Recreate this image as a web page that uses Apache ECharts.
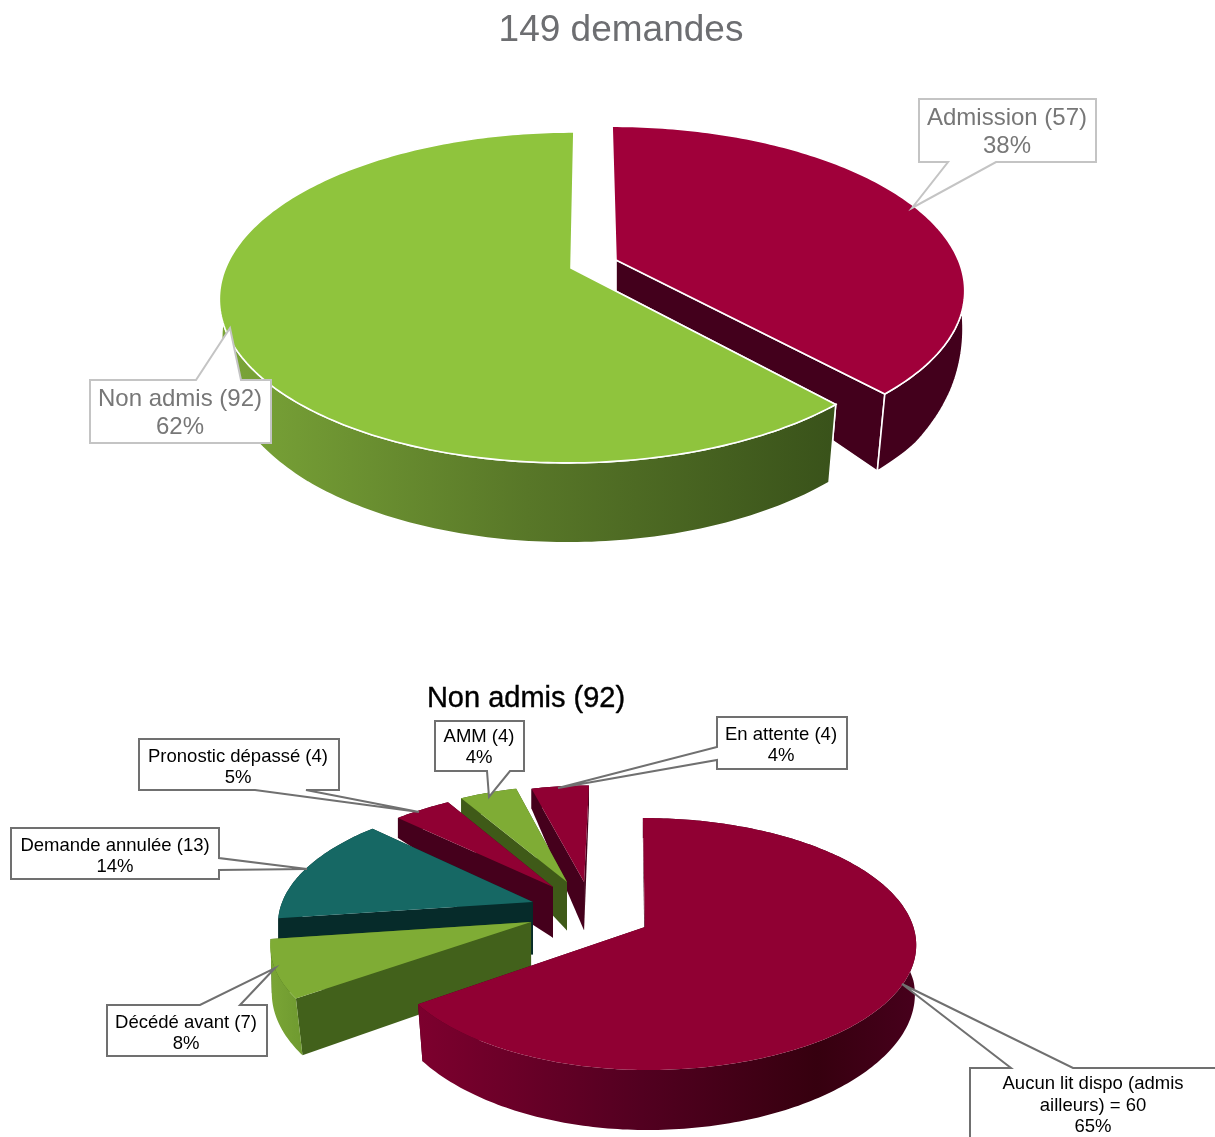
<!DOCTYPE html>
<html>
<head>
<meta charset="utf-8">
<title>Demandes</title>
<script src="https://cdn.jsdelivr.net/npm/echarts@6/dist/echarts.min.js"></script>
<style>
  html, body { margin: 0; padding: 0; background: #fff; }
  #chart { width: 1215px; height: 1137px; }
</style>
</head>
<body>
<div id="chart"></div>
<script>
// data
var topNames = ['Admission (57)', 'Non admis (92)'];
var topValues = [57, 92];
var topPercents = ['38%', '62%'];

var lowNames = ['Aucun lit dispo (admis\nailleurs) = 60', 'Décédé avant (7)', 'Demande annulée (13)', 'Pronostic dépassé (4)', 'AMM (4)', 'En attente (4)'];
var lowValues = [60, 7, 13, 4, 4, 4];
var lowPercents = ['65%', '8%', '14%', '5%', '4%', '4%'];

// perspective of each pie: vanishing x, apex y, radii, tilt, wall height by depth
var topPie = {
    vx: 590, vy: 268, rx: 345.4, ry: 160.2, k: 0.178, leftScale: 1,
    depthV: [-0.05, 0.33, 0.565, 0.74, 1], depthD: [33, 61, 75, 78, 80],
    edge: '#fff', edgeWidth: 1.6,
    offsets: [[0.076, -0.05], [-0.055, 0]],
    radius: [1, 1],
    order: [0, 1],
    face: ['#a0003a', '#8fc43d'],
    side: ['#43001c', '#39521a'],
    arc: [
        [[0, '#43001c'], [1, '#43001c']],
        [[0, '#7ba638'], [0.5, '#587728'], [1, '#39521a']]
    ]
};
var lowPie = {
    vx: 628, vy: 927, rx: 268.5, ry: 123.7, k: 0.135, leftScale: 0.96,
    depthV: [-1, -0.31, 0.6, 1], depthD: [20, 52, 57, 60],
    edge: null, edgeWidth: 0,
    offsets: [[0.063, 0], [-0.363, -0.04], [-0.364, -0.208], [-0.292, -0.338], [-0.239, -0.383], [-0.172, -0.383]],
    radius: [1, 1, 1, 0.97, 0.97, 0.97],
    order: [5, 4, 3, 2, 1, 0],
    face: ['#900033', '#7fac35', '#166864', '#900033', '#7fac35', '#900033'],
    side: ['#45001c', '#42611b', '#062b2a', '#45001c', '#3f5a18', '#45001c'],
    arc: [
        [[0, '#7d002e'], [0.45, '#520020'], [0.8, '#36000f'], [1, '#47001c']],
        [[0, '#7aa535'], [1, '#6f9a30']],
        [[0, '#062b2a'], [1, '#062b2a']],
        [[0, '#45001c'], [1, '#45001c']],
        [[0, '#3f5a18'], [1, '#3f5a18']],
        [[0, '#45001c'], [1, '#45001c']]
    ]
};

function wallHeight(pie, v) {
    var vs = pie.depthV, ds = pie.depthD;
    if (v <= vs[0]) return ds[0];
    for (var i = 1; i < vs.length; i++) {
        if (v <= vs[i]) return ds[i - 1] + (ds[i] - ds[i - 1]) * (v - vs[i - 1]) / (vs[i] - vs[i - 1]);
    }
    return ds[ds.length - 1];
}

function topPoint(pie, u, v) {
    var w = 1 - pie.k * v;
    return [pie.vx + pie.rx * u / w, pie.vy + pie.ry * v / w];
}

function lowPoint(pie, u, v) {
    var p = topPoint(pie, u, v);
    return [pie.vx + (p[0] - pie.vx) * (1 - 0.037 * Math.max(v, 0)), p[1] + wallHeight(pie, v)];
}

function rimUV(pie, i, deg) {
    var a = deg * Math.PI / 180;
    var off = pie.offsets[i];
    var su = Math.sin(a) * pie.radius[i];
    if (su < 0) su *= pie.leftScale;
    return [off[0] + su, off[1] - Math.cos(a) * pie.radius[i]];
}

function makeRenderItem(pie, values) {
    var sum = values.reduce(function (a, b) { return a + b; }, 0);
    return function (params, api) {
        var i = params.dataIndex;
        var start = 0;
        for (var j = 0; j < i; j++) start += values[j] / sum * 360;
        var end = start + api.value(0) / sum * 360;
        var off = pie.offsets[i];
        var base = pie.order.indexOf(i) * 10;

        var rimTop = [], rimLow = [];
        var steps = Math.ceil(end - start);
        for (var s = 0; s <= steps; s++) {
            var uv = rimUV(pie, i, start + (end - start) * s / steps);
            rimTop.push(topPoint(pie, uv[0], uv[1]));
            rimLow.push(lowPoint(pie, uv[0], uv[1]));
        }
        var apexTop = topPoint(pie, off[0], off[1]);
        var apexLow = lowPoint(pie, off[0], off[1]);

        var wallStyle = function (fill) {
            return { fill: fill, stroke: pie.edge, lineWidth: pie.edgeWidth };
        };
        var startFace = [apexTop, rimTop[0], rimLow[0], apexLow];
        var endFace = [apexTop, rimTop[steps], rimLow[steps], apexLow];
        // the face turned away from the viewer goes first
        var startShown = Math.sin(start * Math.PI / 180) < -0.001;
        var faces = startShown ? [endFace, startFace] : [startFace, endFace];

        var children = [];
        faces.forEach(function (pts, n) {
            children.push({ type: 'polygon', z2: base + n, shape: { points: pts }, style: wallStyle(pie.side[i]) });
        });
        var stops = pie.arc[i].map(function (c) { return { offset: c[0], color: c[1] }; });
        children.push({
            type: 'polygon', z2: base + 2,
            shape: { points: rimTop.concat(rimLow.slice().reverse()) },
            style: wallStyle(new echarts.graphic.LinearGradient(0, 0, 1, 0, stops))
        });
        children.push({
            type: 'polygon', z2: base + 3,
            shape: { points: [apexTop].concat(rimTop) },
            style: { fill: pie.face[i], stroke: pie.edge, lineWidth: pie.edgeWidth }
        });
        return { type: 'group', children: children };
    };
}

// callouts: box with pointer, then text
function callout(outline, text, color, border, size, lineH, cx, cy) {
    return [{
        type: 'polygon', z: 100,
        shape: { points: outline },
        style: { fill: '#fff', stroke: border, lineWidth: 2 }
    }, {
        type: 'text', z: 101, x: cx, y: cy,
        style: { text: text, fill: color, font: size + 'px "Liberation Sans", Arial, sans-serif', lineHeight: lineH, align: 'center', verticalAlign: 'middle' }
    }];
}

var grayT = '#777777', grayB = '#c4c4c4', darkB = '#707070';
var graphicEls = [].concat(
    callout([[919, 99], [1096, 99], [1096, 162], [996, 162], [912, 208], [948, 162], [919, 162]],
        topNames[0] + '\n' + topPercents[0], grayT, grayB, 24, 28, 1007, 132),
    callout([[90, 380], [196, 380], [230, 328], [241, 380], [271, 380], [271, 443], [90, 443]],
        topNames[1] + '\n' + topPercents[1], grayT, grayB, 24, 28, 180, 413),
    callout([[970, 1068], [1011, 1068], [902, 984], [1073, 1068], [1218, 1068], [1218, 1142], [970, 1142]],
        lowNames[0] + '\n' + lowPercents[0], '#000', darkB, 18.5, 21.5, 1093, 1105.5),
    callout([[107, 1005], [200, 1005], [275, 968], [240, 1005], [267, 1005], [267, 1056], [107, 1056]],
        lowNames[1] + '\n' + lowPercents[1], '#000', darkB, 18.5, 21, 186, 1033),
    callout([[11, 828], [219, 828], [219, 858], [307, 869], [219, 870], [219, 879], [11, 879]],
        lowNames[2] + '\n' + lowPercents[2], '#000', darkB, 18.5, 21, 115, 856),
    callout([[139, 739], [339, 739], [339, 790], [306, 790], [419, 812], [255, 790], [139, 790]],
        lowNames[3] + '\n' + lowPercents[3], '#000', darkB, 18.5, 21, 238, 767),
    callout([[435, 721], [524, 721], [524, 771], [510, 771], [489, 797], [487, 771], [435, 771]],
        lowNames[4] + '\n' + lowPercents[4], '#000', darkB, 18.5, 21, 479, 747.5),
    callout([[717, 717], [847, 717], [847, 769], [717, 769], [717, 760], [558, 788], [717, 747]],
        lowNames[5] + '\n' + lowPercents[5], '#000', darkB, 18.5, 21, 781, 745)
);

var chart = echarts.init(document.getElementById('chart'));
var option = {
    animation: false,
    title: [{
        text: '149 demandes', left: 616, top: 7, textAlign: 'center',
        textStyle: { color: '#6d6e71', fontSize: 37, fontWeight: 'normal', fontFamily: 'Liberation Sans' }
    }, {
        text: 'Non admis (92)', left: 521, top: 679, textAlign: 'center',
        textStyle: { color: '#000', fontSize: 29, fontWeight: 'normal', fontFamily: 'Liberation Sans', textBorderColor: '#000', textBorderWidth: 0.4 }
    }],
    series: [{
        type: 'custom',
        coordinateSystem: 'none',
        renderItem: makeRenderItem(topPie, topValues),
        data: topValues
    }, {
        type: 'custom',
        coordinateSystem: 'none',
        renderItem: makeRenderItem(lowPie, lowValues),
        data: lowValues
    }],
    graphic: { elements: graphicEls }
};
chart.setOption(option);
window.addEventListener('resize', chart.resize);
</script>
</body>
</html>
